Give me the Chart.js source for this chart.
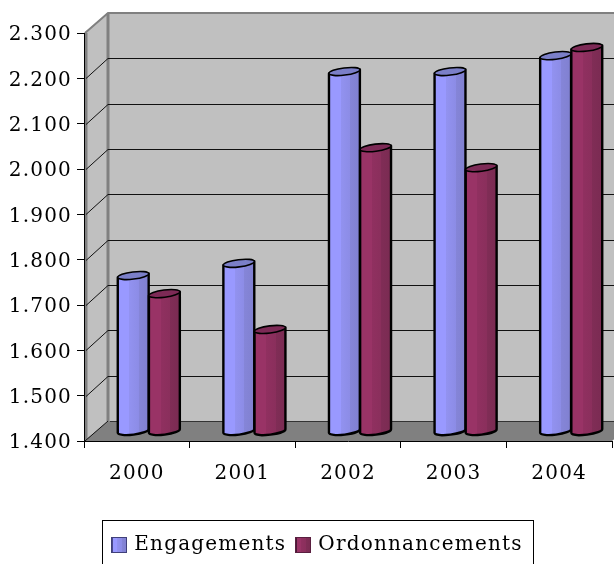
<!DOCTYPE html>
<html><head><meta charset="utf-8">
<script src="https://cdn.jsdelivr.net/npm/chart.js@4"></script>
<style>html,body{margin:0;padding:0;background:#fff;overflow:hidden;width:614px;height:564px}canvas{display:block}</style>
</head><body><canvas id="c" width="636" height="564"></canvas>
<script>
const categories = ['2000','2001','2002','2003','2004'];
const engagements = [1743,1770,2193,2193,2228];
const ordonnancements = [1703,1624,2025,1981,2246];
const seriesNames = ['Engagements','Ordonnancements'];
const DX = 24, DY = -20;
const FONT = '"DejaVu Serif"';
const SPACING = '1.2px';
const styles = [
 {stops:[[0,'#9999ff'],[0.38,'#9999ff'],[0.38,'#9292f0'],[0.68,'#8c8ce6'],[0.68,'#8585d8'],[1,'#8080d0']],cap:'#7b7fc8'},
 {stops:[[0,'#993366'],[0.38,'#993366'],[0.38,'#903060'],[0.68,'#8a2f5c'],[0.68,'#802d56'],[1,'#7a2b52']],cap:'#7d2a56'}
];
function fillGradient(ctx,x0,x1,st){const g=ctx.createLinearGradient(x0,0,x1,0);st.forEach(s=>g.addColorStop(s[0],s[1]));return g;}
const wall = {
 id:'wall',
 beforeLayout(chart){chart.ctx.letterSpacing=SPACING;},
 afterLayout(chart){const g=chart.legend;g.left+=11;g.right+=11;g.top+=2;g.bottom+=2;},
 beforeDraw(chart){
  const ctx=chart.ctx;ctx.letterSpacing=SPACING;
  const {left:l,right:r,top:t,bottom:b}=chart.chartArea,y=chart.scales.y;
  y.getLabelItems().forEach(it=>{if(!it._moved){it.options.translation[1]+=2;it._moved=true;}});
  ctx.save();
  ctx.fillStyle='#c0c0c0';
  ctx.fillRect(l+DX,t+DY,r-l,b-t);
  ctx.beginPath();ctx.moveTo(l,t);ctx.lineTo(l+DX,t+DY);ctx.lineTo(l+DX,b+DY);ctx.lineTo(l,b);ctx.closePath();ctx.fill();
  ctx.fillStyle='#808080';
  ctx.beginPath();ctx.moveTo(l,b);ctx.lineTo(l+DX,b+DY);ctx.lineTo(r+DX,b+DY);ctx.lineTo(r,b);ctx.closePath();ctx.fill();
  ctx.strokeStyle='#808080';ctx.lineWidth=2;
  ctx.beginPath();ctx.moveTo(l+1,t);ctx.lineTo(l+DX,t+DY);ctx.lineTo(r+DX,t+DY);ctx.stroke();
  ctx.lineWidth=3;
  ctx.beginPath();ctx.moveTo(l+DX,t+DY);ctx.lineTo(l+DX,b+DY);ctx.stroke();
  ctx.beginPath();ctx.moveTo(l+2,t);ctx.lineTo(l+2,b);ctx.stroke();
  ctx.strokeStyle='#111';ctx.lineWidth=1;
  y.ticks.forEach(k=>{
   if(k.value===y.min||k.value===y.max)return;
   const p=Math.round(y.getPixelForValue(k.value))+.5;
   ctx.beginPath();ctx.moveTo(l+2,p);ctx.lineTo(l+DX,p+DY);ctx.lineTo(r+DX,p+DY);ctx.stroke();
  });
  ctx.beginPath();ctx.moveTo(l+1,b);ctx.lineTo(l+DX,b+DY);ctx.stroke();
  ctx.strokeStyle='#333';
  ctx.beginPath();ctx.moveTo(l+DX+2,b+DY+.5);ctx.lineTo(r+DX,b+DY+.5);ctx.stroke();
  ctx.restore();
 },
 beforeDatasetsDraw(chart){
  const ctx=chart.ctx,sx=DX/2,sy=DY/2,rot=-0.125,ry=3.6,y=chart.scales.y;
  const bot=y.getPixelForValue(y.min)+sy;
  [0,1].forEach(i=>{
   const st=styles[i];
   chart.getDatasetMeta(i).data.forEach(el=>{
    const w=el.width,cx=el.x+sx,rx=w/2,top=el.y+sy;
    const ax=rx*Math.cos(rot),ay=rx*Math.sin(rot);
    ctx.save();
    ctx.lineJoin='round';
    ctx.beginPath();
    ctx.moveTo(cx-ax,top-ay);
    ctx.lineTo(cx-ax,bot-ay);
    ctx.ellipse(cx,bot,rx,ry,rot,Math.PI,0,true);
    ctx.lineTo(cx+ax,top+ay);
    ctx.closePath();
    ctx.fillStyle=fillGradient(ctx,cx-rx,cx+rx,st.stops);
    ctx.fill();
    ctx.strokeStyle='#000';ctx.lineWidth=2.4;ctx.stroke();
    ctx.beginPath();ctx.ellipse(cx,top,rx,ry,rot,0,Math.PI*2);
    ctx.fillStyle=st.cap;ctx.fill();
    ctx.lineWidth=1.6;ctx.stroke();
    ctx.restore();
   });
  });
 },
 beforeDatasetDraw(){return false;},
 afterDraw(chart){
  const ctx=chart.ctx,lg=chart.legend,h=lg.legendHitBoxes;
  const a=h[0],z=h[h.length-1];
  ctx.save();
  ctx.strokeStyle='#000';ctx.lineWidth=1;
  ctx.strokeRect(Math.round(a.left-9)+.5,lg.top-5.5,Math.round(z.left+z.width-a.left+20),70);
  [0,1].forEach(i=>{
   const b=h[i],x=Math.round(b.left),y=Math.round(b.top+b.height/2-8);
   ctx.fillStyle='#fff';ctx.fillRect(x-1,y-1,18,18);
   ctx.fillStyle=fillGradient(ctx,x,x+16,styles[i].stops);ctx.fillRect(x,y,16,16);
   ctx.fillStyle=i?'#4a1a36':'#4a4a8a';ctx.fillRect(x,y,2,16);
   ctx.strokeStyle=i?'#5a1f40':'#40407a';ctx.lineWidth=1;ctx.strokeRect(x+.5,y+.5,15,15);
  });
  ctx.restore();
 }
};
new Chart(document.getElementById('c'),{
 type:'bar',
 data:{labels:categories,datasets:[
  {label:seriesNames[0],data:engagements,backgroundColor:'#9999ff',borderColor:'#000'},
  {label:seriesNames[1],data:ordonnancements,backgroundColor:'#993366',borderColor:'#000'}
 ]},
 plugins:[wall],
 options:{
  responsive:false,animation:false,
  layout:{padding:{left:0,right:24,top:33,bottom:1}},
  datasets:{bar:{barPercentage:1,categoryPercentage:0.59}},
  plugins:{
   title:{display:false},tooltip:{enabled:false},
   legend:{display:true,position:'bottom',onClick:null,
    labels:{boxWidth:13,boxHeight:13,padding:9,color:'#000',font:{family:FONT,size:20}}}
  },
  scales:{
   x:{grid:{drawOnChartArea:false,tickLength:7,color:'#000',offset:true},
      border:{color:'#000',width:1},
      ticks:{color:'#000',padding:14,maxRotation:0,font:{family:FONT,size:20}},
      afterFit(s){s.height=83;}},
   y:{min:1400,max:2300,
      grid:{drawOnChartArea:false,tickLength:7,color:'#000'},
      border:{color:'#000',width:1},
      ticks:{stepSize:100,color:'#000',padding:5,font:{family:FONT,size:20},
       callback:v=>String(v).replace(/(\d)(\d{3})$/,'$1.$2')},
      afterFit(s){s.width=84;}}
  }
 }
});
</script></body></html>
